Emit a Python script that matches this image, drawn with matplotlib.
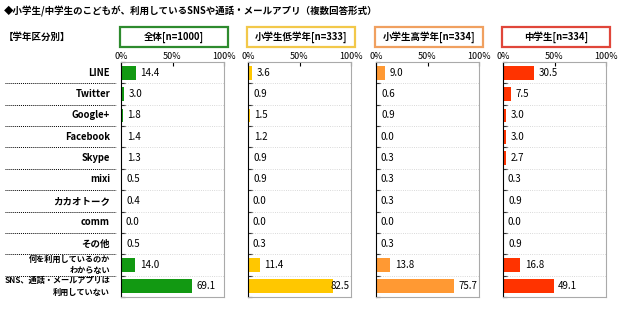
import matplotlib.pyplot as plt
import matplotlib.patches as patches
import numpy as np

plt.rcParams['font.family'] = ['Noto Sans CJK JP', 'DejaVu Sans']

categories = ['LINE', 'Twitter', 'Google+', 'Facebook', 'Skype', 'mixi',
              'カカオトーク', 'comm', 'その他',
              '何を利用しているのか\nわからない',
              'SNS、通話・メールアプリは\n利用していない']
groups = ['全体[n=1000]', '小学生低学年[n=333]', '小学生高学年[n=334]', '中学生[n=334]']
total = [14.4, 3.0, 1.8, 1.4, 1.3, 0.5, 0.4, 0.0, 0.5, 14.0, 69.1]
lower = [3.6, 0.9, 1.5, 1.2, 0.9, 0.9, 0.0, 0.0, 0.3, 11.4, 82.5]
upper = [9.0, 0.6, 0.9, 0.0, 0.3, 0.3, 0.3, 0.0, 0.3, 13.8, 75.7]
junior = [30.5, 7.5, 3.0, 3.0, 2.7, 0.3, 0.9, 0.0, 0.9, 16.8, 49.1]
series = [total, lower, upper, junior]
bar_colors = ['#129912', '#ffc700', '#ff9933', '#ff3300']
box_colors = ['#2e8b2e', '#f2c84a', '#f0a060', '#e0463a']

W, H = 640, 312
fig = plt.figure(figsize=(6.4, 3.12), dpi=100)

fig.text(4 / W, 1 - 11 / H, '◆小学生/中学生のこどもが、利用しているSNSや通話・メールアプリ（複数回答形式）',
         fontsize=6.8, fontweight='bold', va='center', ha='left')
fig.text(4 / W, 1 - 37 / H, '【学年区分別】', fontsize=6.8, fontweight='bold', va='center')

lefts = [121, 248, 376, 503]
ax_w = 103
top, bottom = 62, 297
n = len(categories)
y = np.arange(n)

for i, (vals, left) in enumerate(zip(series, lefts)):
    ax = fig.add_axes([left / W, 1 - bottom / H, ax_w / W, (bottom - top) / H])
    ax.barh(y, vals, height=0.64, color=bar_colors[i], edgecolor='none')
    ax.set_xlim(0, 100)
    ax.set_ylim(n - 0.5, -0.5)
    for yy, v in zip(y, vals):
        if v > 78:
            ax.text(99, yy, f'{v:.1f}', ha='right', va='center', fontsize=7)
        else:
            ax.text(v + 4.5, yy, f'{v:.1f}', ha='left', va='center', fontsize=7)
    for b in np.arange(n - 1) + 0.5:
        ax.axhline(b, color='#cccccc', lw=0.6, ls=':')
    ax.xaxis.tick_top()
    ax.set_xticks([0, 50, 100])
    ax.set_xticklabels(['0%', '50%', '100%'], fontsize=6.5)
    ax.tick_params(axis='x', length=3, direction='in', pad=1)
    ax.set_yticks(np.arange(n + 1) - 0.5)
    ax.set_yticklabels([])
    ax.tick_params(axis='y', length=3, direction='in')
    for s in ['top', 'right', 'bottom']:
        ax.spines[s].set_color('#aaaaaa')
    ax.spines['left'].set_color('black')

    # header box
    bx = left - 1
    fig.patches.append(patches.Rectangle((bx / W, 1 - 47 / H), 108 / W, 20 / H,
                                         transform=fig.transFigure, fill=False,
                                         edgecolor=box_colors[i], lw=1.6))
    fig.text((bx + 54) / W, 1 - 37 / H, groups[i], ha='center', va='center',
             fontsize=6.8, fontweight='bold')

# category labels on the left with dotted separators
row_h = (bottom - top) / n
for k, c in enumerate(categories):
    yc = top + row_h * (k + 0.5)
    two = '\n' in c
    fig.text(110 / W, 1 - yc / H, c, ha='right', va='center',
             fontsize=5.9 if two else 6.8, fontweight='bold', linespacing=1.35)
    if k < n - 1:
        yb = 1 - (top + row_h * (k + 1)) / H
        fig.add_artist(plt.Line2D([5 / W, 116 / W], [yb, yb], color='black',
                                  lw=0.7, ls=(0, (1, 1)), transform=fig.transFigure))

fig.savefig('out.png', dpi=100)
